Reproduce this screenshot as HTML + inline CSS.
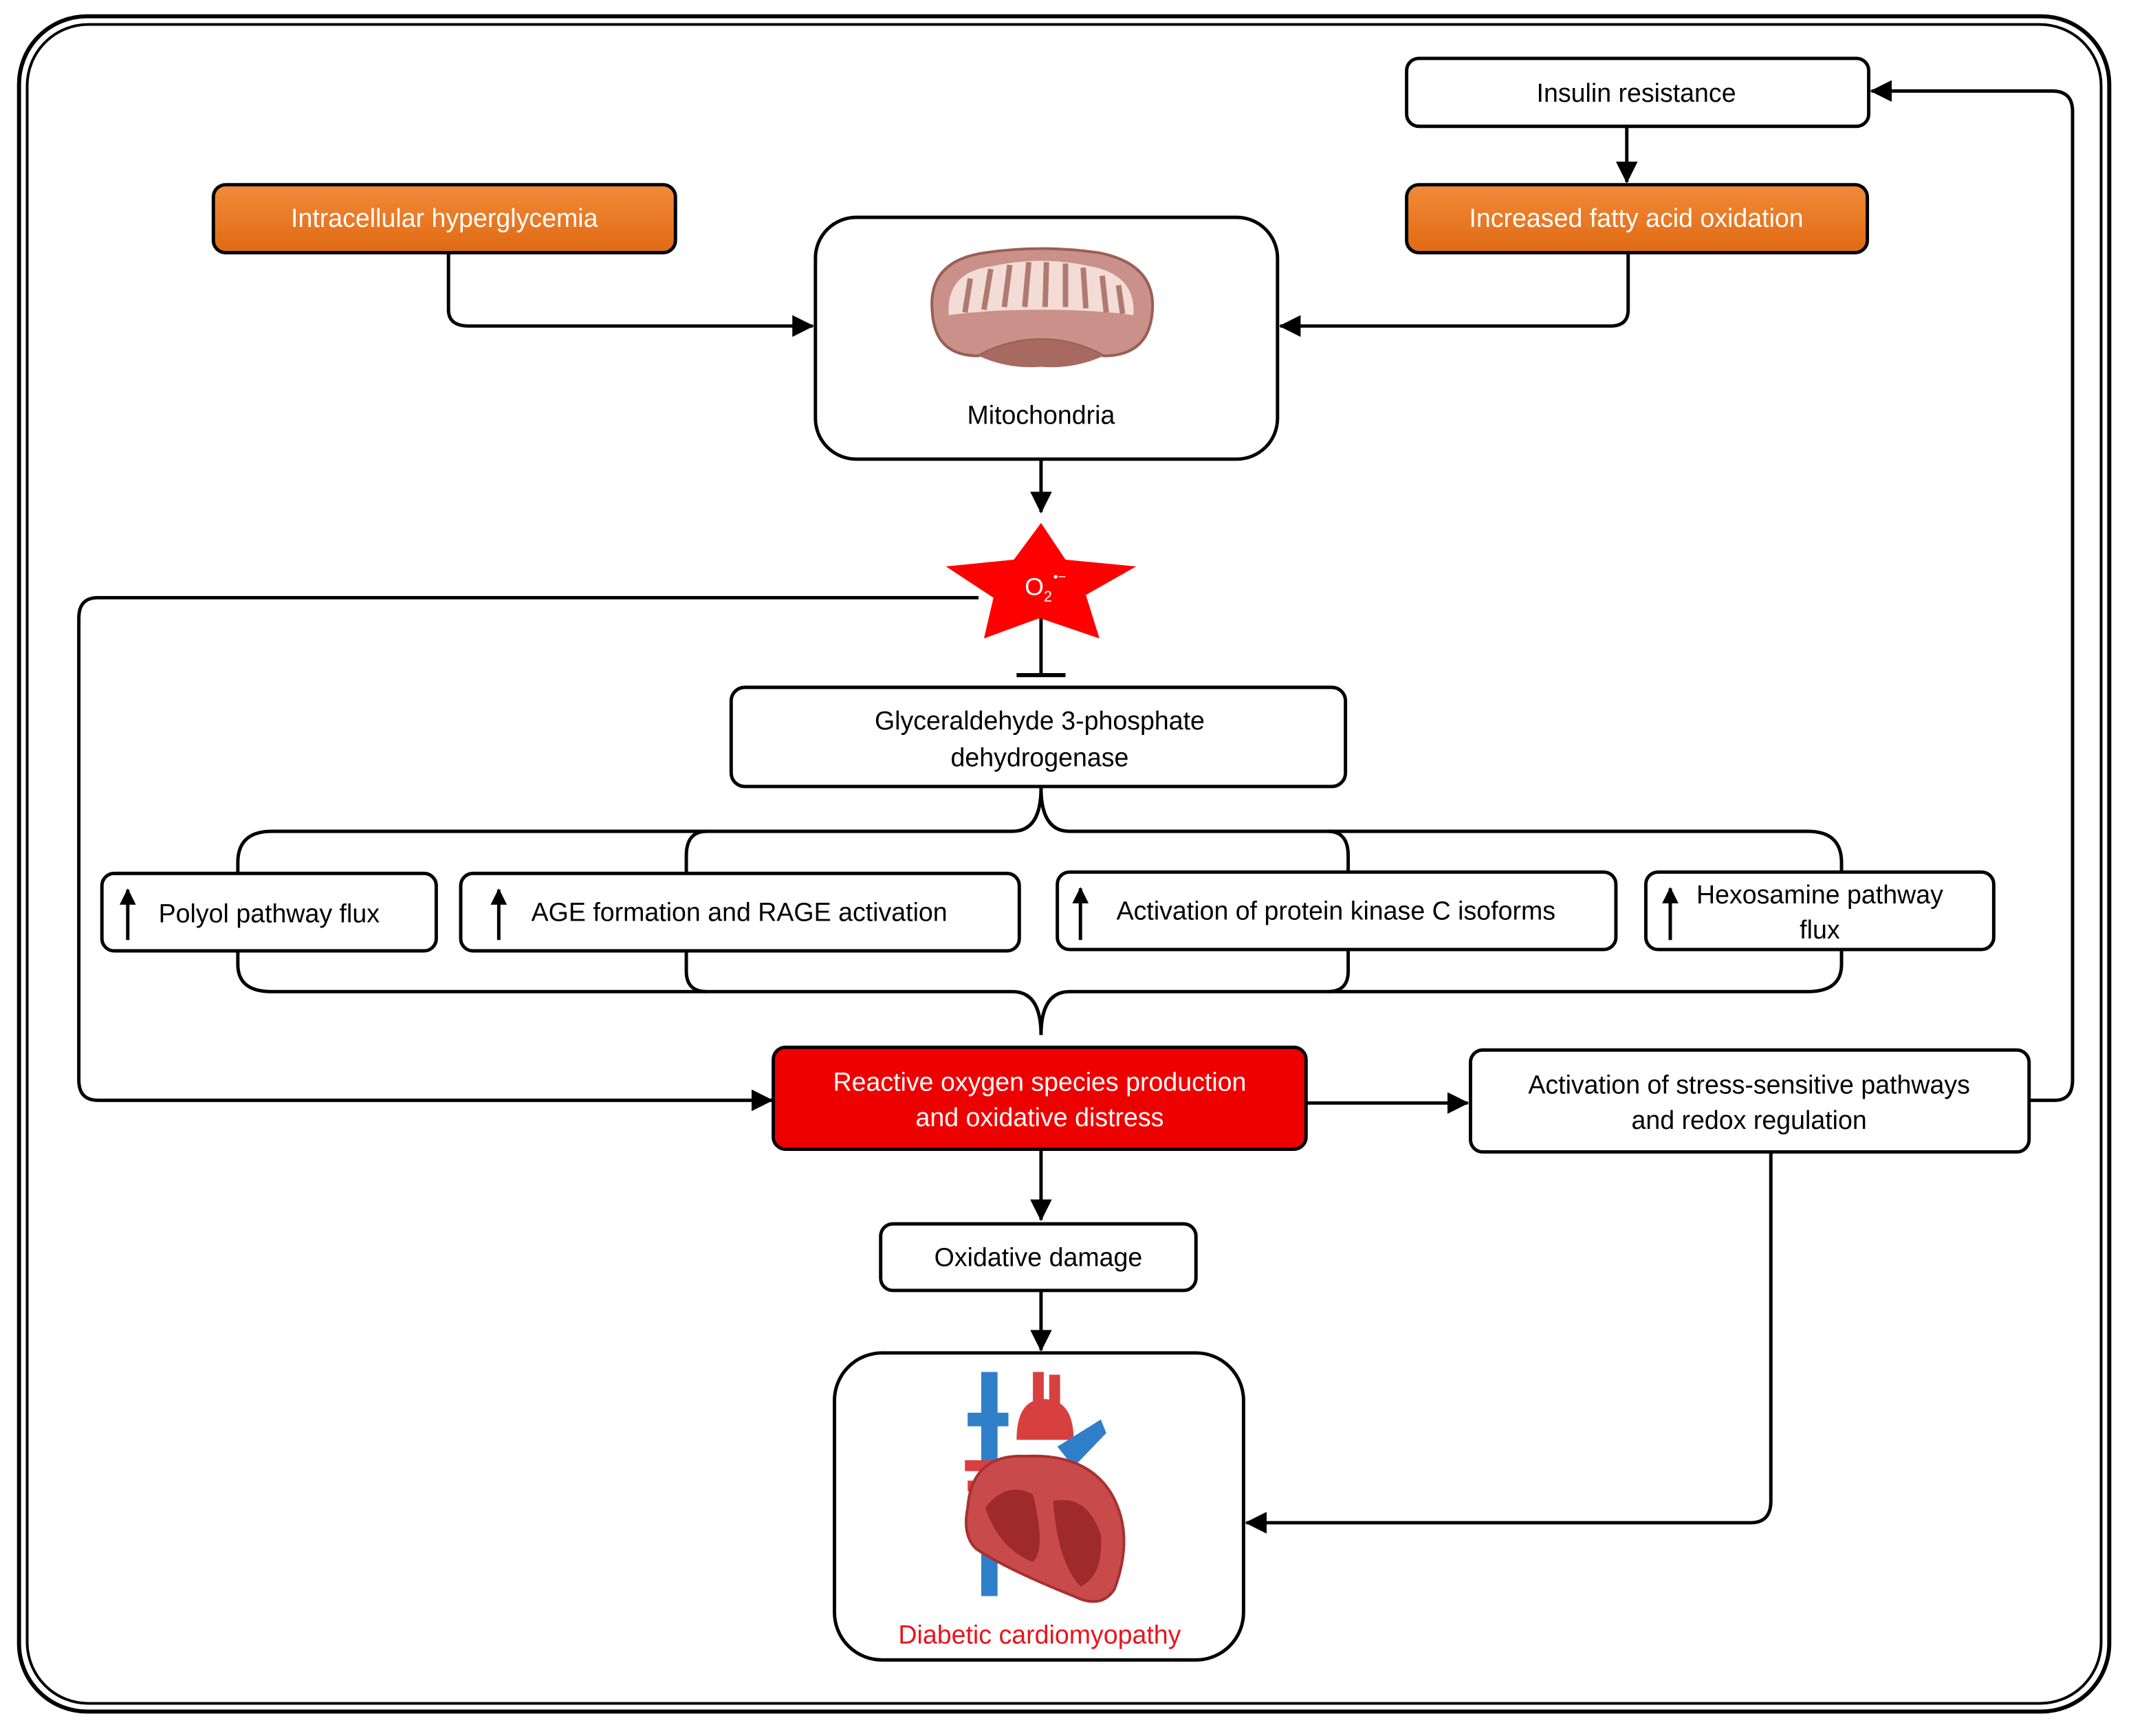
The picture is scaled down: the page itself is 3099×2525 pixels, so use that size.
<!DOCTYPE html>
<html><head><meta charset="utf-8"><style>html,body{margin:0;padding:0;background:#fff}svg{display:block}</style></head><body>
<svg width="3099" height="2525" viewBox="0 0 1568 1278" preserveAspectRatio="none" xmlns="http://www.w3.org/2000/svg" font-family="'Liberation Sans', sans-serif">
<defs>
<marker id="ar" markerWidth="12" markerHeight="12" refX="11" refY="6" orient="auto" markerUnits="userSpaceOnUse"><path d="M0,0 L12,6 L0,12 z" fill="#000"/></marker>
<marker id="ar2" markerWidth="16" markerHeight="16" refX="15" refY="8" orient="auto" markerUnits="userSpaceOnUse"><path d="M0,0 L16,8 L0,16 z" fill="#000"/></marker>
<linearGradient id="og" x1="0" y1="0" x2="0" y2="1"><stop offset="0" stop-color="#f28a3a"/><stop offset="1" stop-color="#e06a12"/></linearGradient>
</defs>
<rect x="14" y="12" width="1538" height="1248" rx="50" fill="none" stroke="#000" stroke-width="3"/>
<rect x="20" y="18" width="1526" height="1236" rx="45" fill="none" stroke="#000" stroke-width="2"/>

<g fill="none" stroke="#000" stroke-width="2.5">
<line x1="1197" y1="93" x2="1197" y2="134" marker-end="url(#ar2)"/>
<path d="M330,186 V228 Q330,240 345,240 H598" marker-end="url(#ar2)"/>
<path d="M1198,186 V228 Q1198,240 1185,240 H942" marker-end="url(#ar2)"/>
<line x1="766" y1="338" x2="766" y2="377" marker-end="url(#ar2)"/>
<path d="M720,440 H72 Q58,440 58,455 V795 Q58,810 72,810 H568" marker-end="url(#ar2)"/>
<line x1="766" y1="450" x2="766" y2="497"/>
<line x1="748" y1="497" x2="784" y2="497" stroke-width="3"/>
<path d="M766,580 Q766,612 745,612 H200 Q175,612 175,635 V643"/>
<path d="M766,580 Q766,612 787,612 H1330 Q1355,612 1355,635 V643"/>
<path d="M520,612 Q505,612 505,630 V643"/>
<path d="M977,612 Q992,612 992,630 V643"/>
<path d="M175,700 V710 Q175,730 200,730 H745 Q766,730 766,762"/>
<path d="M1355,700 V710 Q1355,730 1330,730 H787 Q766,730 766,762"/>
<path d="M505,700 V715 Q505,730 520,730"/>
<path d="M992,700 V715 Q992,730 977,730"/>
<line x1="961" y1="812" x2="1080" y2="812" marker-end="url(#ar2)"/>
<path d="M1493,810 H1512 Q1525,810 1525,795 V82 Q1525,67 1510,67 H1377" marker-end="url(#ar2)"/>
<line x1="766" y1="846" x2="766" y2="898" marker-end="url(#ar2)"/>
<line x1="766" y1="950" x2="766" y2="994" marker-end="url(#ar2)"/>
<path d="M1303,848 V1105 Q1303,1121 1288,1121 H917" marker-end="url(#ar2)"/>
</g>

<g stroke="#000" stroke-width="2.5">
<rect x="1035" y="43" width="340" height="50" rx="9" fill="#fff"/>
<rect x="1035" y="136" width="339" height="50" rx="9" fill="url(#og)"/>
<rect x="157" y="136" width="340" height="50" rx="9" fill="url(#og)"/>
<rect x="600" y="160" width="340" height="178" rx="30" fill="#fff"/>
<rect x="538" y="506" width="452" height="73" rx="10" fill="#fff"/>
<rect x="75" y="643" width="246" height="57" rx="9" fill="#fff"/>
<rect x="339" y="643" width="411" height="57" rx="9" fill="#fff"/>
<rect x="778" y="642" width="411" height="57" rx="9" fill="#fff"/>
<rect x="1211" y="642" width="256" height="57" rx="9" fill="#fff"/>
<rect x="569" y="771" width="392" height="75" rx="9" fill="#ee0000"/>
<rect x="1082" y="773" width="411" height="75" rx="9" fill="#fff"/>
<rect x="648" y="901" width="232" height="49" rx="9" fill="#fff"/>
<rect x="614" y="996" width="301" height="226" rx="35" fill="#fff"/>
</g>

<polygon points="766,385 784,412 836,417 799,438 809,470 765,455 724,470 731,440 696,417 746,412" fill="#f00"/>
<text x="754" y="438" font-size="18" fill="#fff">O</text><text x="768" y="443" font-size="11" fill="#fff">2</text><text x="775" y="428" font-size="10" fill="#fff">•−</text>

<g>
<path d="M686,230 Q682,192 725,186 Q766,180 808,186 Q850,194 848,228 Q846,262 812,262 Q790,250 766,250 Q742,250 720,262 Q688,262 686,230 z" fill="#c99189" stroke="#9a5e55" stroke-width="2"/>
<path d="M698,232 Q696,200 730,196 Q766,188 802,196 Q836,202 834,232 Q805,228 766,228 Q727,228 698,232 z" fill="#f3dcd6"/>
<path d="M710,230 L714,205 M724,228 L729,198 M739,226 L743,195 M754,226 L757,193 M769,226 L770,193 M784,226 L784,194 M799,227 L797,197 M814,230 L811,203 M826,231 L823,210" stroke="#b07a70" stroke-width="4" fill="none"/>
<path d="M720,262 Q742,250 766,250 Q790,250 812,262 Q790,272 766,270 Q742,272 720,262 z" fill="#a76a60"/>
</g>

<g>
<rect x="722" y="1010" width="12" height="165" fill="#2f7fc8"/>
<rect x="712" y="1040" width="30" height="10" fill="#2f7fc8"/>
<path d="M760,1010 h8 v40 h-8z M772,1012 h8 v40 h-8z" fill="#d84040"/>
<path d="M748,1060 Q748,1030 768,1030 Q790,1030 790,1060 z" fill="#d84040"/>
<path d="M778,1065 L810,1045 L814,1055 L790,1080 z" fill="#2f7fc8"/>
<path d="M710,1075 h30 v8 h-30z M712,1090 h28 v8 h-28z" fill="#d84040"/>
<path d="M712,1110 Q715,1070 755,1072 Q800,1070 818,1100 Q835,1130 820,1170 Q810,1185 790,1175 Q740,1155 718,1140 Q708,1130 712,1110 z" fill="#c94a4a" stroke="#a83030" stroke-width="2"/>
<path d="M725,1110 Q740,1090 760,1100 Q770,1140 760,1150 Q735,1140 725,1110z" fill="#9e2a2a"/>
<path d="M775,1105 Q800,1100 810,1130 Q812,1160 795,1168 Q778,1150 775,1105z" fill="#9e2a2a"/>
</g>

<g font-size="19" text-anchor="middle" fill="#000">
<text x="1204" y="75">Insulin resistance</text>
<text x="1204" y="167" fill="#fff">Increased fatty acid oxidation</text>
<text x="327" y="167" fill="#fff">Intracellular hyperglycemia</text>
<text x="766" y="312">Mitochondria</text>
<text x="765" y="537">Glyceraldehyde 3-phosphate</text>
<text x="765" y="564">dehydrogenase</text>
<text x="198" y="679">Polyol pathway flux</text>
<text x="544" y="678">AGE formation and RAGE activation</text>
<text x="983" y="677">Activation of protein kinase C isoforms</text>
<text x="1339" y="665">Hexosamine pathway</text>
<text x="1339" y="691">flux</text>
<text x="765" y="803" fill="#fff">Reactive oxygen species production</text>
<text x="765" y="829" fill="#fff">and oxidative distress</text>
<text x="1287" y="805">Activation of stress-sensitive pathways</text>
<text x="1287" y="831">and redox regulation</text>
<text x="764" y="932">Oxidative damage</text>
<text x="765" y="1210" fill="#e8141c">Diabetic cardiomyopathy</text>
</g>
<g stroke="#000" stroke-width="2.5" fill="none">
<line x1="94" y1="692" x2="94" y2="655" marker-end="url(#ar)"/>
<line x1="367" y1="692" x2="367" y2="655" marker-end="url(#ar)"/>
<line x1="795" y1="692" x2="795" y2="654" marker-end="url(#ar)"/>
<line x1="1229" y1="692" x2="1229" y2="654" marker-end="url(#ar)"/>
</g>
</svg>
</body></html>
